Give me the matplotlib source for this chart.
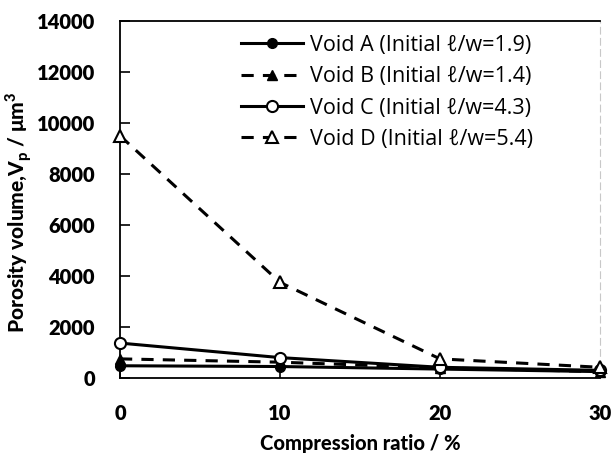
import matplotlib
matplotlib.use("Agg")
import matplotlib.pyplot as plt

compression = [0, 10, 20, 30]
void_a = [480, 450, 350, 250]
void_b = [750, 620, 400, 250]
void_c = [1370, 800, 420, 300]
void_d = [9500, 3750, 750, 420]
labels = ["Void A (Initial ℓ/w=1.9)", "Void B (Initial ℓ/w=1.4)",
          "Void C (Initial ℓ/w=4.3)", "Void D (Initial ℓ/w=5.4)"]
yticks = [0, 2000, 4000, 6000, 8000, 10000, 12000, 14000]
xticks = [0, 10, 20, 30]

plt.rcParams['font.family'] = ['Open Sans', 'DejaVu Sans']

fig = plt.figure(figsize=(6.16, 4.57), dpi=100)
ax = fig.add_axes([120/616, 1-378/457, 480/616, 357/457])

dash = (0, (4, 3))
ax.plot(compression, void_a, color='black', lw=2.2, marker='o', ms=7,
        mfc='black', mec='black', label=labels[0], zorder=3, clip_on=False)
ax.plot(compression, void_b, color='black', lw=2.2, ls=dash, marker='^', ms=7,
        mfc='black', mec='black', label=labels[1], zorder=3, clip_on=False)
ax.plot(compression, void_c, color='black', lw=2.2, marker='o', ms=8,
        mfc='white', mec='black', mew=1.5, label=labels[2], zorder=4, clip_on=False)
ax.plot(compression, void_d, color='black', lw=2.2, ls=dash, marker='^', ms=8,
        mfc='white', mec='black', mew=1.5, label=labels[3], zorder=4, clip_on=False)

ax.set_xlim(0, 30)
ax.set_ylim(0, 14000)
ax.set_xticks(xticks)
ax.set_yticks(yticks)
ax.tick_params(direction='in', length=7, width=1.2, pad=18)
ax.tick_params(axis='x', pad=19)
for lab in ax.get_xticklabels() + ax.get_yticklabels():
    lab.set_fontfamily('Lato')
    lab.set_fontweight('heavy')
    lab.set_fontsize(14.5)

for s in ['left', 'bottom', 'top']:
    ax.spines[s].set_linewidth(1.3)
    ax.spines[s].set_color('black')
ax.spines['right'].set_color('#c8c8c8')
ax.spines['right'].set_linestyle((0, (6, 4)))
ax.spines['right'].set_linewidth(0.8)

ax.set_xlabel('Compression ratio / %', fontfamily='Lato', fontweight='black',
              fontsize=14.5, labelpad=8)
ax.set_ylabel(r'Porosity volume,V$_\mathregular{p}$ / μm$^\mathregular{3}$',
              fontfamily='Lato', fontweight='black', fontsize=15)
ax.yaxis.set_label_coords(-0.178, 0.465)

leg = ax.legend(loc='upper left', bbox_to_anchor=(112/480, 0.985), frameon=False,
                fontsize=15.5, handlelength=2.9, handletextpad=0.3,
                labelspacing=0.48, borderaxespad=0)

fig.savefig('out.png', dpi=100)
